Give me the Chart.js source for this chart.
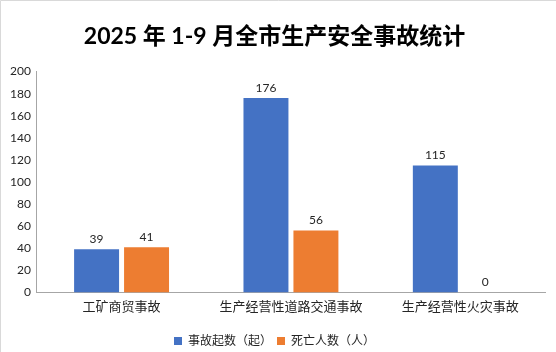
<!DOCTYPE html>
<html>
<head>
<meta charset="utf-8">
<script src="https://cdn.jsdelivr.net/npm/chart.js@4/dist/chart.umd.min.js"></script>
<style>
html,body{margin:0;padding:0;background:#fff;}
#wrap{width:556px;height:352px;position:relative;}
</style>
</head>
<body>
<div id="wrap"><canvas id="c" width="556" height="352"></canvas></div>
<script>
const categories = ['工矿商贸事故', '生产经营性道路交通事故', '生产经营性火灾事故'];
const accidents = [39, 176, 115];
const deaths = [41, 56, 0];
const seriesNames = ['事故起数（起）', '死亡人数（人）'];
const titleText = '2025 年 1-9 月全市生产安全事故统计';

const FONT = "Lato, 'Noto Sans CJK SC', sans-serif";

const frame = {
  id: 'frame',
  beforeDraw(chart) {
    const ctx = chart.ctx;
    ctx.save();
    ctx.fillStyle = '#fff';
    ctx.fillRect(0, 0, chart.width, chart.height);
    ctx.strokeStyle = '#d9d9d9';
    ctx.lineWidth = 1;
    ctx.beginPath();
    ctx.moveTo(0.5, chart.height);
    ctx.lineTo(0.5, 0.5);
    ctx.lineTo(chart.width, 0.5);
    ctx.stroke();
    ctx.restore();
  }
};

const valueLabels = {
  id: 'valueLabels',
  afterDatasetsDraw(chart) {
    const ctx = chart.ctx;
    ctx.save();
    ctx.font = "12px Lato, 'Noto Sans', sans-serif";
    ctx.fillStyle = '#262626';
    ctx.textAlign = 'center';
    ctx.textBaseline = 'bottom';
    chart.data.datasets.forEach((ds, i) => {
      const meta = chart.getDatasetMeta(i);
      meta.data.forEach((el, j) => {
        ctx.fillText(String(ds.data[j]), el.x, el.y - 4);
      });
    });
    ctx.restore();
  }
};

new Chart(document.getElementById('c'), {
  type: 'bar',
  data: {
    labels: categories,
    datasets: [
      { label: seriesNames[0], data: accidents, backgroundColor: '#4472c4' },
      { label: seriesNames[1], data: deaths, backgroundColor: '#ed7d31' }
    ]
  },
  options: {
    responsive: false,
    animation: false,
    devicePixelRatio: 1,
    layout: { padding: { left: 4, right: 11, top: 0, bottom: -5 } },
    datasets: { bar: { categoryPercentage: 0.59, barPercentage: 0.9 } },
    plugins: {
      title: {
        display: true,
        text: titleText,
        color: '#000',
        font: { family: FONT, size: 23, weight: 'bold' },
        padding: { top: 23, bottom: 21 }
      },
      legend: {
        position: 'bottom',
        labels: {
          boxWidth: 8, boxHeight: 8,
          color: '#262626',
          font: { family: FONT, size: 12 },
          padding: 5
        }
      },
      tooltip: { enabled: false }
    },
    scales: {
      x: {
        grid: { display: false, drawTicks: false },
        border: { display: true, color: '#a6a6a6', width: 1 },
        ticks: { color: '#262626', font: { family: FONT, size: 13 }, padding: 7 },
        afterFit(scale) { scale.height += 8; }
      },
      y: {
        min: 0, max: 200,
        grid: { display: false, drawTicks: false },
        border: { display: true, color: '#a6a6a6', width: 1 },
        ticks: { stepSize: 20, color: '#262626', font: { family: "Lato, sans-serif", size: 12 }, padding: 6 }
      }
    }
  },
  plugins: [frame, valueLabels]
});
</script>
</body>
</html>
